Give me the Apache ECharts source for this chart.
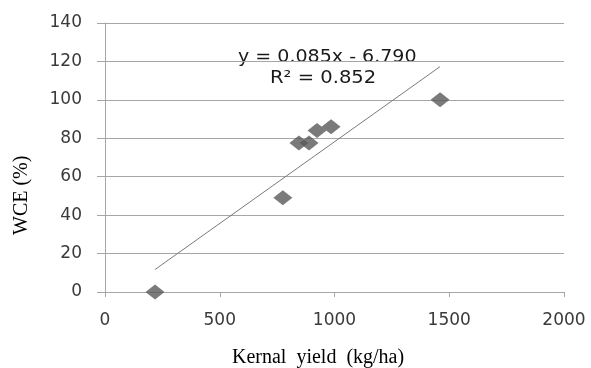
<!DOCTYPE html>
<html>
<head>
<meta charset="utf-8">
<script src="https://cdn.jsdelivr.net/npm/echarts@6/dist/echarts.min.js"></script>
<style>html,body{margin:0;padding:0;background:#fff;}#c{width:591px;height:368px;}</style>
</head>
<body>
<div id="c"></div>
<script>
var yieldX = [218, 775, 845, 889, 924, 985, 1460];
var wceY = [0, 49, 77.5, 77.5, 84, 86, 100];
var trendX = [218, 1460];
var trendY = [11.7, 117.3];
var xTicks = [0, 500, 1000, 1500, 2000];
var yTicks = [0, 20, 40, 60, 80, 100, 120, 140];
var equationText = 'y = 0.085x - 6.790';
var r2Text = 'R² = 0.852';
var xTitle = 'Kernal  yield  (kg/ha)';
var yTitle = 'WCE (%)';

var chart = echarts.init(document.getElementById('c'), null, {renderer: 'canvas'});
var pts = yieldX.map(function (x, i) { return [x, wceY[i]]; });
var trend = trendX.map(function (x, i) { return [x, trendY[i]]; });
var axisColor = '#a6a6a6';
chart.setOption({
  animation: false,
  backgroundColor: '#ffffff',
  grid: {left: 105, right: 27, top: 23, bottom: 76, containLabel: false},
  xAxis: {
    type: 'value', min: xTicks[0], max: xTicks[xTicks.length - 1], interval: 500,
    axisLine: {show: true, lineStyle: {color: axisColor, width: 1}},
    axisTick: {show: true, length: 5, lineStyle: {color: axisColor}},
    splitLine: {show: false},
    axisLabel: {margin: 20, color: '#3a3a3a', fontFamily: 'DejaVu Sans', fontSize: 17,
      formatter: function (v) { return String(v); }}
  },
  yAxis: {
    type: 'value', min: yTicks[0], max: yTicks[yTicks.length - 1], interval: 20,
    axisLine: {show: true, lineStyle: {color: axisColor, width: 1}},
    axisTick: {show: true, length: 8, lineStyle: {color: axisColor}},
    splitLine: {show: true, lineStyle: {color: axisColor, width: 1}},
    axisLabel: {margin: 23, color: '#3a3a3a', fontFamily: 'DejaVu Sans', fontSize: 17,
      formatter: function (v) { return String(v); }}
  },
  series: [
    {
      type: 'line', data: trend, symbol: 'none', silent: true,
      lineStyle: {color: '#7a7a7a', width: 1}, z: 2
    },
    {
      type: 'scatter', data: pts, symbol: 'diamond', symbolSize: [19, 15],
      itemStyle: {color: '#595959'}, z: 3
    }
  ],
  graphic: [
    {type: 'text', x: 238, y: 49, scaleX: 1.12, style: {text: equationText, font: '17px "DejaVu Sans"', fill: '#1a1a1a'}},
    {type: 'text', x: 270, y: 70, scaleX: 1.15, style: {text: r2Text, font: '17px "DejaVu Sans"', fill: '#1a1a1a'}},
    {type: 'text', x: 232, y: 348, style: {text: xTitle, font: '20px "Liberation Serif"', fill: '#000'}},
    {type: 'text', x: 12, y: 235, rotation: Math.PI / 2, style: {text: yTitle, font: '20px "Liberation Serif"', fill: '#000'}}
  ]
});
</script>
</body>
</html>
